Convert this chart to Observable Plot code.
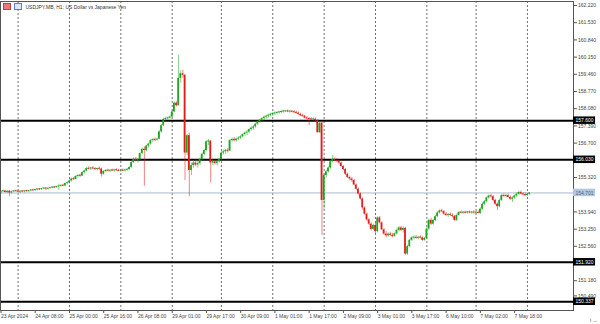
<!DOCTYPE html>
<html><head><meta charset="utf-8">
<script src="https://cdn.jsdelivr.net/npm/d3@7"></script>
<script src="https://cdn.jsdelivr.net/npm/@observablehq/plot@0.6"></script>
<style>
html,body{margin:0;padding:0;background:#fff;}
#wrap{position:relative;width:600px;height:324px;overflow:hidden;}
.ic{position:absolute;top:3px;width:8px;height:7px;box-sizing:border-box;}
</style></head><body><div id="wrap"></div>
<script>
const title = "USDJPY.MB, H1: US Dollar vs Japanese Yen";
const xLabels = ["23 Apr 2024","24 Apr 08:00","25 Apr 00:00","25 Apr 16:00","26 Apr 08:00","29 Apr 01:00","29 Apr 17:00","30 Apr 09:00","1 May 01:00","1 May 17:00","2 May 09:00","3 May 01:00","3 May 17:00","6 May 10:00","7 May 02:00","7 May 18:00"];
const xLabelIdx = [0,16,32,48,64,80,96,112,128,144,160,176,192,208,224,240];
const dayStartIdx = [8,32,56,80,103,127,151,175,199,222,246];
const yTicks = [162.22,161.53,160.84,160.15,159.46,158.77,158.08,157.39,156.70,156.01,155.32,154.63,153.94,153.25,152.56,151.87,151.18,150.49];
const levels = [157.600,156.030,151.920,150.337];
const levelLabels = ["157.600","156.030","151.920","150.337"];
const bid = 154.701;
// hourly candles [open, high, low, close], 23 Apr 16:00 .. 8 May 01:00
const ohlc = [
[154.70,154.80,154.66,154.76],[154.76,154.82,154.72,154.78],[154.78,154.80,154.70,154.72],[154.72,154.79,154.68,154.77],
[154.77,154.80,154.55,154.70],[154.70,154.78,154.66,154.75],[154.75,154.80,154.72,154.78],[154.78,154.82,154.74,154.76],
[154.76,154.80,154.70,154.74],[154.74,154.79,154.68,154.77],[154.77,154.80,154.72,154.75],[154.75,154.79,154.71,154.78],
[154.78,154.81,154.73,154.76],[154.76,154.80,154.72,154.79],[154.79,154.83,154.75,154.81],[154.81,154.85,154.77,154.80],
[154.80,154.84,154.76,154.83],[154.83,154.87,154.79,154.85],[154.85,154.88,154.80,154.84],[154.84,154.89,154.81,154.87],
[154.87,154.91,154.83,154.89],[154.89,154.92,154.79,154.86],[154.86,154.90,154.82,154.88],[154.88,154.93,154.85,154.91],
[154.91,154.95,154.87,154.93],[154.93,154.96,154.88,154.92],[154.92,154.97,154.89,154.95],[154.95,155.05,154.80,154.97],
[154.97,155.02,154.93,155.00],[155.00,155.04,154.95,154.98],[154.98,155.10,154.96,155.08],[155.08,155.14,155.03,155.10],
[155.10,155.22,155.06,155.18],[155.18,155.30,155.14,155.26],[155.26,155.32,155.20,155.24],[155.24,155.40,155.22,155.36],
[155.36,155.44,155.30,155.40],[155.40,155.45,155.33,155.38],[155.38,155.55,155.36,155.52],[155.52,155.62,155.46,155.58],
[155.58,155.72,155.55,155.68],[155.68,155.75,155.62,155.66],[155.66,155.73,155.60,155.70],[155.70,155.76,155.64,155.67],
[155.67,155.72,155.60,155.64],[155.64,155.70,155.58,155.68],[155.68,155.74,155.62,155.66],[155.66,155.70,155.34,155.45],
[155.45,155.60,155.42,155.56],[155.56,155.64,155.52,155.60],[155.60,155.66,155.54,155.58],[155.58,155.63,155.52,155.61],
[155.61,155.66,155.56,155.59],[155.59,155.64,155.54,155.62],[155.62,155.67,155.57,155.60],[155.60,155.65,155.55,155.58],
[155.58,155.64,155.53,155.61],[155.61,155.66,155.56,155.59],[155.59,155.65,155.54,155.62],[155.62,155.68,155.57,155.64],
[155.64,155.75,155.60,155.72],[155.72,155.95,155.70,155.92],[155.92,156.10,155.88,156.05],[156.05,156.12,155.95,156.00],
[156.00,156.08,155.90,156.03],[156.03,156.30,156.00,156.28],[156.28,156.50,156.24,156.45],[156.45,156.55,154.97,156.40],
[156.40,156.62,156.35,156.58],[156.58,156.70,156.50,156.66],[156.66,156.85,156.62,156.80],[156.80,156.88,156.72,156.84],
[156.84,156.90,156.76,156.82],[156.82,156.90,156.78,156.86],[156.86,157.20,156.84,157.15],[157.15,157.45,157.10,157.40],
[157.40,157.70,157.36,157.65],[157.65,157.74,157.58,157.68],[157.68,157.75,157.62,157.70],[157.70,157.80,157.66,157.75],
[157.75,158.00,157.72,157.95],[157.95,158.35,157.92,158.30],[158.30,158.36,158.15,158.20],[158.20,160.22,158.18,159.30],
[159.30,159.60,159.10,159.48],[159.48,159.62,159.30,159.42],[159.42,159.45,155.20,156.30],[156.30,157.05,156.20,157.00],
[157.00,157.10,154.55,155.60],[155.60,155.90,155.40,155.80],[155.80,156.00,155.70,155.90],[155.90,156.05,155.75,155.82],
[155.82,155.95,155.70,155.88],[155.88,156.10,155.80,156.05],[156.05,156.30,156.00,156.25],[156.25,156.45,156.20,156.40],
[156.40,156.80,156.35,156.75],[156.75,156.85,156.60,156.78],[156.78,156.80,155.10,155.90],[155.90,156.05,155.80,155.95],
[155.95,156.02,155.82,155.88],[155.88,156.00,155.78,155.95],[155.95,156.10,155.90,156.05],
[156.05,156.35,156.00,156.30],[156.30,156.42,156.22,156.35],[156.35,156.45,156.25,156.40],[156.40,156.48,156.30,156.38],
[156.38,156.85,156.35,156.80],[156.80,156.90,156.72,156.85],[156.85,156.92,156.75,156.80],[156.80,156.90,156.74,156.86],
[156.86,156.95,156.80,156.90],[156.90,157.00,156.84,156.95],[156.95,157.08,156.90,157.04],[157.04,157.15,156.98,157.10],
[157.10,157.20,157.00,157.14],[157.14,157.28,157.08,157.24],[157.24,157.35,157.18,157.30],[157.30,157.40,157.22,157.35],
[157.35,157.50,157.30,157.46],[157.46,157.60,157.40,157.55],[157.55,157.66,157.48,157.62],[157.62,157.72,157.55,157.68],
[157.68,157.78,157.60,157.74],[157.74,157.82,157.66,157.78],[157.78,157.86,157.70,157.82],[157.82,157.90,157.76,157.85],
[157.85,157.92,157.78,157.88],[157.88,157.95,157.82,157.90],[157.90,157.96,157.84,157.92],[157.92,157.98,157.86,157.94],
[157.94,158.00,157.88,157.96],[157.96,158.02,157.90,157.97],[157.97,158.02,157.92,157.98],[157.98,158.03,157.92,157.96],
[157.96,158.02,157.90,157.97],[157.97,158.01,157.91,157.95],[157.95,158.00,157.88,157.93],[157.93,157.98,157.86,157.90],
[157.90,157.95,157.82,157.85],[157.85,157.90,157.76,157.80],[157.80,157.86,157.74,157.78],[157.78,157.82,157.66,157.70],
[157.70,157.76,157.62,157.68],[157.68,157.72,157.40,157.66],[157.66,157.72,157.60,157.64],[157.64,157.70,157.58,157.66],
[157.66,157.70,157.56,157.60],[157.60,157.65,157.10,157.12],[157.12,157.55,157.08,157.50],[157.50,157.56,153.00,154.40],
[154.40,155.45,154.05,155.40],[155.40,155.60,155.30,155.55],[155.55,155.75,155.50,155.70],[155.70,156.00,155.65,155.95],
[155.95,156.20,155.90,156.05],[156.05,156.10,155.95,156.00],[156.00,156.08,155.92,155.96],[155.96,156.02,155.85,155.90],
[155.90,155.94,155.72,155.76],[155.76,155.80,155.60,155.64],[155.64,155.68,155.40,155.45],[155.45,155.50,155.28,155.32],
[155.32,155.38,155.18,155.26],[155.26,155.32,155.12,155.20],[155.20,155.24,154.98,155.02],[155.02,155.06,154.80,154.85],
[154.85,154.90,154.62,154.66],[154.66,154.70,154.42,154.46],[154.46,154.50,154.02,154.10],[154.10,154.15,153.80,153.85],
[153.85,153.90,153.56,153.62],[153.62,153.68,153.40,153.45],[153.45,153.50,153.18,153.24],[153.24,153.45,153.20,153.40],
[153.40,153.50,153.08,153.15],[153.15,153.75,153.10,153.70],[153.70,153.76,153.45,153.50],[153.50,153.55,153.18,153.22],
[153.22,153.28,153.00,153.05],[153.05,153.15,152.90,152.98],[152.98,153.10,152.92,153.05],[153.05,153.12,152.95,153.00],
[153.00,153.08,152.90,152.96],[152.96,153.10,152.92,153.06],[153.06,153.25,153.02,153.20],[153.20,153.35,153.15,153.30],
[153.30,153.36,153.15,153.20],[153.20,153.34,153.10,153.28],[153.28,153.32,152.20,152.25],[152.25,152.60,152.20,152.55],
[152.55,152.85,152.50,152.80],[152.80,152.95,152.75,152.90],[152.90,152.98,152.82,152.92],[152.92,152.99,152.84,152.88],
[152.88,152.96,152.82,152.92],[152.92,152.98,152.86,152.90],[152.90,152.94,152.76,152.80],[152.80,152.92,152.76,152.88],
[152.88,153.30,152.85,153.25],[153.25,153.65,153.20,153.60],[153.60,153.68,153.40,153.45],[153.45,153.65,153.40,153.60],
[153.60,153.80,153.55,153.75],[153.75,153.95,153.70,153.90],[153.90,154.02,153.85,153.98],[153.98,154.05,153.90,153.95],
[153.95,154.00,153.80,153.85],[153.85,153.92,153.75,153.80],[153.80,153.88,153.72,153.84],[153.84,153.90,153.76,153.80],
[153.80,153.86,153.70,153.76],[153.76,153.80,153.55,153.60],[153.60,153.85,153.55,153.80],[153.80,153.95,153.76,153.92],
[153.92,153.98,153.86,153.90],[153.90,153.96,153.84,153.92],[153.92,153.97,153.86,153.90],[153.90,153.96,153.85,153.93],
[153.93,153.98,153.87,153.91],[153.91,153.96,153.85,153.92],[153.92,153.98,153.86,153.90],
[153.90,153.96,153.84,153.92],[153.92,153.98,153.86,153.88],[153.88,154.10,153.84,154.05],[154.05,154.30,154.00,154.25],
[154.25,154.40,154.20,154.35],[154.35,154.55,154.30,154.50],[154.50,154.62,154.45,154.58],[154.58,154.65,154.50,154.55],
[154.55,154.60,154.35,154.40],[154.40,154.45,154.20,154.25],[154.25,154.30,154.00,154.15],[154.15,154.45,154.10,154.40],
[154.40,154.65,154.35,154.60],[154.60,154.66,154.52,154.56],[154.56,154.64,154.50,154.60],[154.60,154.65,154.50,154.52],
[154.52,154.58,154.40,154.45],[154.45,154.55,154.32,154.50],[154.50,154.62,154.45,154.58],[154.58,154.70,154.52,154.65],
[154.65,154.76,154.60,154.72],[154.72,154.78,154.62,154.66],[154.66,154.72,154.58,154.62],[154.62,154.70,154.55,154.60],
[154.60,154.68,154.55,154.65],[154.65,154.72,154.60,154.70]
];

const UP = "#19a519", DOWN = "#e21c1c";
const data = ohlc.map((d, i) => ({i, o: d[0], h: d[1], l: d[2], c: d[3], up: d[3] >= d[0]}));
const X0 = -0.23, X1 = 267.53;
const minHalf = 0.02;
const boxHalf = 0.15;
const font = "'Liberation Sans', Arial, sans-serif";
// tick labels that sit under a price box are not shown (as in the reference)
const boxed = [...levels, bid];
const hiddenTick = d => boxed.some(b => Math.abs(b - d) < 0.12);
const nearTick = d => !hiddenTick(d) && boxed.some(b => Math.abs(b - d) < 0.2);
const plainTicks = yTicks.filter(d => !nearTick(d));
const nudgedTicks = yTicks.filter(nearTick);

const chart = Plot.plot({
  width: 600, height: 324,
  marginLeft: 0, marginRight: 27, marginTop: 1, marginBottom: 14,
  style: {fontFamily: font, fontSize: "5px", background: "#fff", color: "#333", overflow: "visible"},
  x: {type: "linear", domain: [X0, X1], axis: null},
  y: {domain: [149.986, 162.38], axis: null},
  color: {type: "identity"},
  marks: [
    Plot.ruleX(dayStartIdx, {stroke: "#6e6e6e", strokeDasharray: "2,2", strokeWidth: 1}),
    Plot.ruleY([bid], {stroke: "#a9b9cb", strokeWidth: 1}),
    Plot.ruleY(levels, {stroke: "#000", strokeWidth: 2}),
    Plot.ruleX(data, {x: "i", y1: "l", y2: "h", stroke: d => d.up ? UP : DOWN, strokeOpacity: 0.55, strokeWidth: 1}),
    Plot.rect(data, {
      x1: d => d.i - 0.4, x2: d => d.i + 0.4,
      y1: d => Math.min(Math.min(d.o, d.c), (d.o + d.c) / 2 - minHalf),
      y2: d => Math.max(Math.max(d.o, d.c), (d.o + d.c) / 2 + minHalf),
      fill: d => d.up ? UP : DOWN
    }),
    Plot.frame({stroke: "#555", strokeWidth: 1}),
    Plot.axisY(plainTicks, {anchor: "right", tickSize: 3, tickPadding: 1.5, tickFormat: d => hiddenTick(d) ? "" : d.toFixed(3), fontSize: 5, fill: "#444", stroke: "#555"}),
    Plot.axisY(nudgedTicks, {anchor: "right", tickSize: 3, tickPadding: 1.5, tickFormat: d => d.toFixed(3), fontSize: 5, fill: "#444", stroke: "#555", dy: -2}),
    Plot.axisX(xLabelIdx, {anchor: "bottom", tickSize: 3, tickPadding: 1, tickFormat: d => xLabels[xLabelIdx.indexOf(d)], textAnchor: "start", fontSize: 5, fill: "#444", stroke: "#555"}),
    Plot.rect([bid], {x1: X1, x2: X1 + 10.3, y1: d => d - boxHalf, y2: d => d + boxHalf, fill: "#b3c6dd"}),
    Plot.text([bid], {x: X1, y: d => d, text: d => d.toFixed(3), dx: 2, textAnchor: "start", fill: "#4d6f97", fontSize: 5}),
    Plot.rect(levels, {x1: X1, x2: X1 + 10.3, y1: d => d - boxHalf, y2: d => d + boxHalf, fill: "#000"}),
    Plot.text(levels, {x: X1, y: d => d, text: (d, k) => levelLabels[k], dx: 2, textAnchor: "start", fill: "#fff", fontSize: 5}),
    Plot.text([title], {frameAnchor: "top-left", dx: 25, dy: 4, fontSize: 5, fill: "#333", lineAnchor: "top"})
  ]
});
const wrap = document.getElementById("wrap");
wrap.appendChild(chart);
const i1 = document.createElement("div"); i1.className = "ic";
i1.style.cssText += "left:3px;background:#e87a7a;border:1px solid #c04040;";
const i2 = document.createElement("div"); i2.className = "ic";
i2.style.cssText += "left:14px;background:#dfe8f8;border:1px solid #5a7fd0;";
wrap.appendChild(i1); wrap.appendChild(i2);
</script></body></html>
